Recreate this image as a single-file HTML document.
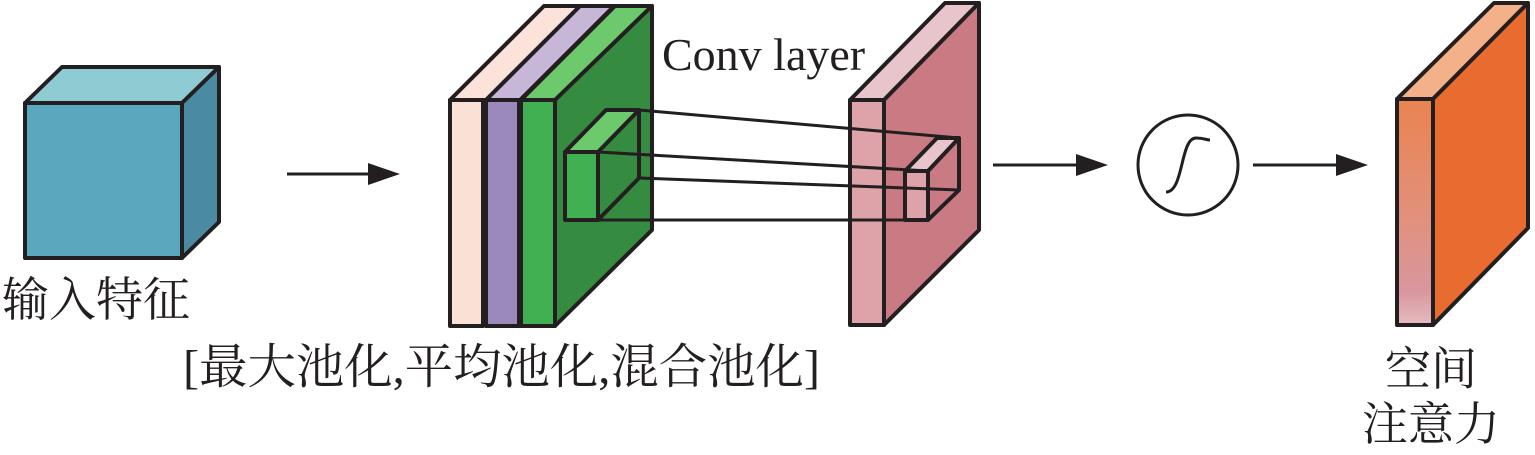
<!DOCTYPE html>
<html><head><meta charset="utf-8"><style>
html,body{margin:0;padding:0;background:#fff;width:1535px;height:455px;overflow:hidden}
text{font-family:"Liberation Serif","Noto Serif CJK SC","Noto Sans CJK SC",serif;fill:#231f20}
</style></head><body>
<svg width="1535" height="455" viewBox="0 0 1535 455" xmlns="http://www.w3.org/2000/svg">
<defs>
<linearGradient id="og" x1="0" y1="0" x2="0" y2="1">
<stop offset="0" stop-color="#ea8350"/><stop offset="0.5" stop-color="#e2907a"/><stop offset="0.85" stop-color="#d9969e"/><stop offset="1" stop-color="#e6bcc2"/>
</linearGradient>
</defs>
<g stroke="#231f20" stroke-width="4" stroke-linejoin="round">
<polygon points="25,103 62,67 219,67 182,103" fill="#8ecbd3"/>
<polygon points="182,103 219,67 219,222 182,258" fill="#4a8ba3"/>
<rect x="25" y="103" width="157" height="155" fill="#5aa8bd"/>
<polygon points="450,100 544,6 580,6 486,100" fill="#fbe3dc"/>
<rect x="450" y="100" width="33" height="226" fill="#f9e1d6"/>
<polygon points="486,100 580,6 614,6 520,100" fill="#c6b7d8"/>
<rect x="486" y="100" width="33" height="226" fill="#9c89bb"/>
<polygon points="521,100 615,6 652,6 555,100" fill="#6cc96c"/>
<rect x="521" y="100" width="34" height="226" fill="#40b052"/>
<polygon points="555,100 652,6 652,230 555,326" fill="#358b40"/>
<polygon points="565,152 606,110 639,110 598,152" fill="#6cc96c"/>
<rect x="565" y="152" width="33" height="68" fill="#40b052"/>
<polyline points="598,220 639,178 639,110" fill="none"/>
<polygon points="850,100 945,3 979,3 884,100" fill="#e8c5ca"/>
<rect x="850" y="100" width="34" height="225" fill="#dda3a8"/>
<polygon points="884,100 979,3 979,230 884,325" fill="#c97a82"/>
<polygon points="905,171 937,138 959,138 928,171" fill="#e8c5ca"/>
<rect x="905" y="171" width="23" height="49" fill="#dda3a8"/>
<polyline points="928,220 959,190 959,138" fill="none"/>
<line x1="639" y1="110" x2="959" y2="138" stroke-width="3"/>
<line x1="598" y1="152" x2="928" y2="171" stroke-width="3"/>
<line x1="639" y1="178" x2="959" y2="190" stroke-width="3"/>
<line x1="565" y1="220" x2="928" y2="220" stroke-width="3"/>
<polygon points="1397,99 1494,3 1528,3 1433,99" fill="#f4b089"/>
<rect x="1397" y="99" width="36" height="226" fill="url(#og)"/>
<polygon points="1433,99 1528,3 1528,228 1433,325" fill="#e86c30"/>
<circle cx="1188" cy="165" r="50" fill="#fff" stroke-width="3"/>
<path d="M1166,192 C1184,192 1180,138 1196,138 C1204,138 1206,140 1210,140" fill="none" stroke-width="3"/>
</g>
<g stroke="#231f20" stroke-width="3">
<line x1="287" y1="174" x2="372" y2="174"/>
<line x1="993" y1="165" x2="1080" y2="165"/>
<line x1="1253" y1="165" x2="1340" y2="165"/>
</g>
<g fill="#231f20">
<polygon points="400,174 368,163 368,185"/>
<polygon points="1108,165 1076,154 1076,176"/>
<polygon points="1368,165 1336,154 1336,176"/>
</g>
<text x="662" y="70" font-size="46">Conv layer</text>
<text x="2" y="316" font-size="47">输入特征</text>
<text x="183" y="383" font-size="48" textLength="637" lengthAdjust="spacingAndGlyphs">[最大池化,平均池化,混合池化]</text>
<text x="1385" y="385" font-size="46">空间</text>
<text x="1362" y="440" font-size="46">注意力</text>
</svg>
</body></html>
